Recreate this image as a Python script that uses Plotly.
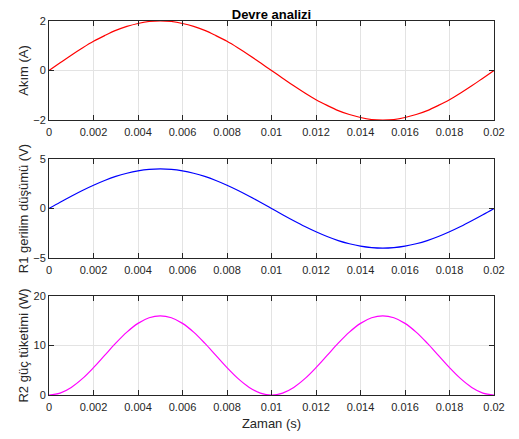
import plotly.graph_objects as go
from plotly.subplots import make_subplots

zaman = [0, 0.0005, 0.001, 0.0015, 0.002, 0.0025, 0.003, 0.0035, 0.004, 0.0045,
         0.005, 0.0055, 0.006, 0.0065, 0.007, 0.0075, 0.008, 0.0085, 0.009, 0.0095,
         0.01, 0.0105, 0.011, 0.0115, 0.012, 0.0125, 0.013, 0.0135, 0.014, 0.0145,
         0.015, 0.0155, 0.016, 0.0165, 0.017, 0.0175, 0.018, 0.0185, 0.019, 0.0195, 0.02]

akim = [0, 0.31, 0.62, 0.91, 1.18, 1.41, 1.62, 1.78, 1.90, 1.98,
        2.0, 1.98, 1.90, 1.78, 1.62, 1.41, 1.18, 0.91, 0.62, 0.31,
        0, -0.31, -0.62, -0.91, -1.18, -1.41, -1.62, -1.78, -1.90, -1.98,
        -2.0, -1.98, -1.90, -1.78, -1.62, -1.41, -1.18, -0.91, -0.62, -0.31, 0]

gerilim = [0, 0.63, 1.24, 1.82, 2.35, 2.83, 3.24, 3.56, 3.80, 3.95,
           4.0, 3.95, 3.80, 3.56, 3.24, 2.83, 2.35, 1.82, 1.24, 0.63,
           0, -0.63, -1.24, -1.82, -2.35, -2.83, -3.24, -3.56, -3.80, -3.95,
           -4.0, -3.95, -3.80, -3.56, -3.24, -2.83, -2.35, -1.82, -1.24, -0.63, 0]

guc = [0, 0.39, 1.53, 3.30, 5.53, 8.0, 10.47, 12.70, 14.47, 15.61,
       16.0, 15.61, 14.47, 12.70, 10.47, 8.0, 5.53, 3.30, 1.53, 0.39,
       0, 0.39, 1.53, 3.30, 5.53, 8.0, 10.47, 12.70, 14.47, 15.61,
       16.0, 15.61, 14.47, 12.70, 10.47, 8.0, 5.53, 3.30, 1.53, 0.39, 0]

x_ticks = [0, 0.002, 0.004, 0.006, 0.008, 0.01, 0.012, 0.014, 0.016, 0.018, 0.02]
x_labels = ["0", "0.002", "0.004", "0.006", "0.008", "0.01", "0.012", "0.014", "0.016", "0.018", "0.02"]

fig = make_subplots(rows=3, cols=1)
fig.add_trace(go.Scatter(x=zaman, y=akim, mode="lines", line=dict(color="#ff0000", width=1.2, shape="spline")), row=1, col=1)
fig.add_trace(go.Scatter(x=zaman, y=gerilim, mode="lines", line=dict(color="#0000ff", width=1.2, shape="spline")), row=2, col=1)
fig.add_trace(go.Scatter(x=zaman, y=guc, mode="lines", line=dict(color="#ff00ff", width=1.2, shape="spline")), row=3, col=1)

font = "Liberation Sans, Arial, sans-serif"
axis_common = dict(showline=True, linecolor="#262626", linewidth=1, mirror="ticks",
                   ticks="inside", ticklen=5, tickcolor="#262626",
                   showgrid=True, gridcolor="#e3e3e3", gridwidth=1, zeroline=False,
                   tickfont=dict(family=font, size=11, color="#262626"))

domains = [[0.7353, 1.0], [0.3663, 0.631], [0.0, 0.2647]]
yranges = [[-2, 2], [-5, 5], [0, 20]]
yticks = [[-2, 0, 2], [-5, 0, 5], [0, 10, 20]]
ytitles = ["Akım (A)", "R1 gerilim düşümü (V)", "R2 güç tüketimi (W)"]

for i in range(3):
    xa = "xaxis" if i == 0 else f"xaxis{i+1}"
    ya = "yaxis" if i == 0 else f"yaxis{i+1}"
    fig.layout[xa].update(range=[0, 0.02], tickvals=x_ticks, ticktext=x_labels, ticklabelstandoff=2, **axis_common)
    fig.layout[ya].update(domain=domains[i], range=yranges[i], tickvals=yticks[i], **axis_common,
                          title=dict(text=ytitles[i], font=dict(family=font, size=13, color="#262626"), standoff=1))

fig.layout["xaxis3"].update(title=dict(text="Zaman (s)", font=dict(family=font, size=13, color="#262626"), standoff=6))

W, H = 511, 431
fig.update_layout(
    width=W, height=H,
    margin=dict(l=41, r=25, t=13, b=44, autoexpand=False),
    paper_bgcolor="white", plot_bgcolor="white",
    showlegend=False,
    title=dict(text="<b>Devre analizi</b>", x=(41 + 486) / 2 / W, xanchor="center", y=1 - 6 / H, yanchor="middle",
               font=dict(family=font, size=13, color="#000000")),
)

fig.write_html("out.html")
